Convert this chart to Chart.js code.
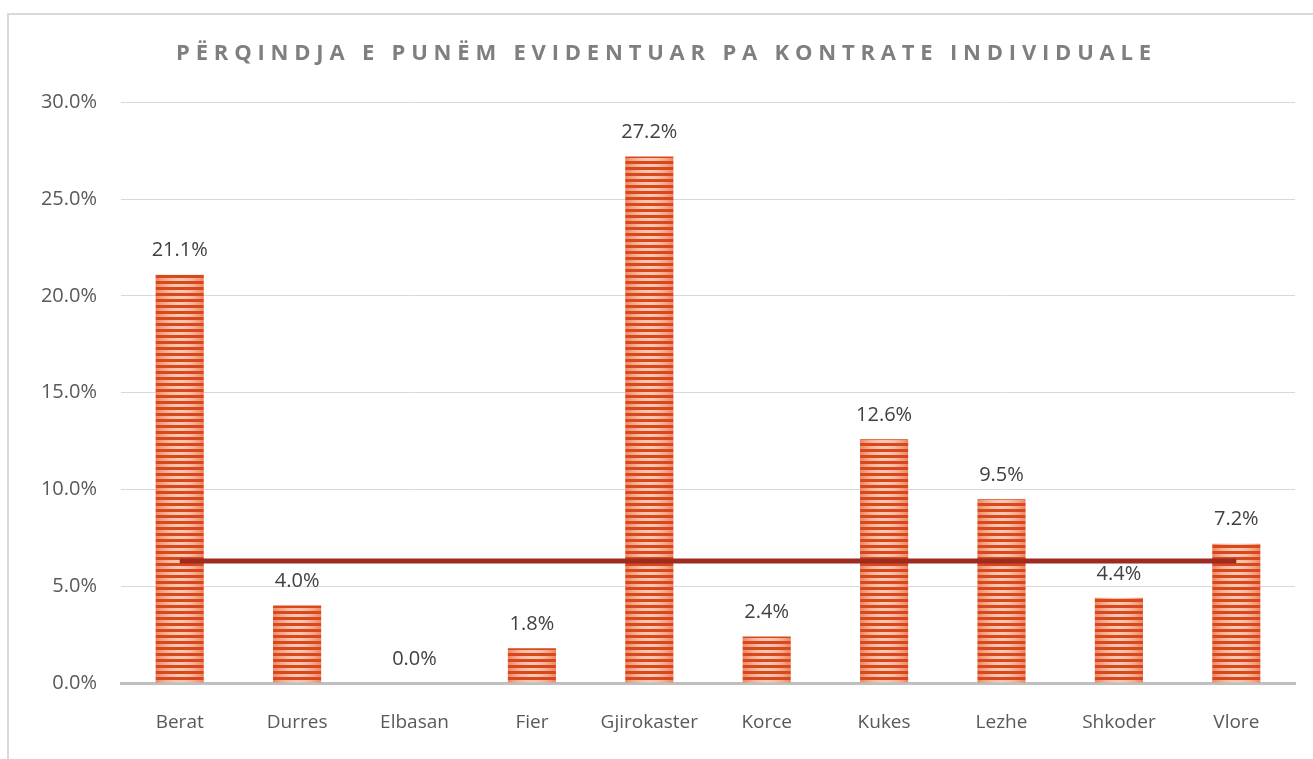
<!DOCTYPE html>
<html>
<head>
<meta charset="utf-8">
<script src="https://cdn.jsdelivr.net/npm/chart.js@4"></script>
<style>
  html, body { margin: 0; padding: 0; background: #ffffff; overflow: hidden; }
  #wrap { position: relative; width: 1313px; height: 759px; }
  #frame { position: absolute; left: 7px; top: 13px; width: 1330px; height: 780px; border: 2px solid #d9d9d9; box-sizing: border-box; }
  canvas { position: absolute; left: 0; top: 0; }
</style>
</head>
<body>
<div id="wrap">
  <div id="frame"></div>
  <canvas id="c" width="1313" height="759"></canvas>
</div>
<script>
const chartTitle = 'PËRQINDJA E PUNËM EVIDENTUAR PA KONTRATE INDIVIDUALE';
const categories = ['Berat', 'Durres', 'Elbasan', 'Fier', 'Gjirokaster', 'Korce', 'Kukes', 'Lezhe', 'Shkoder', 'Vlore'];
const shareValues = [21.1, 4.0, 0.0, 1.8, 27.2, 2.4, 12.6, 9.5, 4.4, 7.2];
const averageValues = [6.3, 6.3, 6.3, 6.3, 6.3, 6.3, 6.3, 6.3, 6.3, 6.3];
const yTicks = [0, 5, 10, 15, 20, 25, 30];

const BAR_PCT = 0.41;
const DARK = 'rgb(216,72,26)';
const FONT = '"Open Sans", "DejaVu Sans", sans-serif';

const patternCache = {};
function stripePattern(ctx, left, w) {
  const W = Math.max(1, Math.round(w));
  const key = W;
  let c = patternCache[key];
  if (!c) {
    c = document.createElement('canvas');
    c.width = W; c.height = 6;
    const p = c.getContext('2d');
    p.fillStyle = DARK;
    p.fillRect(0, 0, W, 6);
    for (let x = 0; x < W; x++) {
      const t = Math.abs((x + 0.5) / W - 0.5) * 2;
      const f = Math.pow(t, 1.8);
      const r = Math.round(249 - f * 12);
      const g = Math.round(200 - f * 66);
      const b = Math.round(180 - f * 80);
      p.fillStyle = `rgb(${r},${g},${b})`;
      p.fillRect(x, 0, 1, 3);
    }
    patternCache[key] = c;
  }
  const pat = ctx.createPattern(c, 'repeat');
  pat.setTransform(new DOMMatrix().translate(left, 2));
  return pat;
}

const titleSpacing = {
  id: 'titleSpacing',
  beforeDraw(chart) {
    const tb = chart.titleBlock;
    if (tb && !tb._spaced) {
      const orig = tb.draw;
      tb.draw = function (...args) {
        const ctx = this.ctx;
        ctx.save();
        ctx.letterSpacing = '5.8px';
        ctx.translate(9, 0);
        orig.apply(this, args);
        ctx.restore();
      };
      tb._spaced = true;
    }
  }
};

const valueLabels = {
  id: 'valueLabels',
  afterDatasetsDraw(chart) {
    const meta = chart.getDatasetMeta(0);
    const ctx = chart.ctx;
    ctx.save();
    ctx.font = '20px ' + FONT;
    ctx.fillStyle = '#404040';
    ctx.textAlign = 'center';
    ctx.textBaseline = 'middle';
    meta.data.forEach((el, i) => {
      const v = chart.data.datasets[0].data[i];
      ctx.fillText(v.toFixed(1) + '%', el.x, el.y - 24);
    });
    ctx.restore();
  }
};

new Chart(document.getElementById('c'), {
  data: {
    labels: categories,
    datasets: [
      {
        type: 'bar',
        label: 'Përqindja',
        data: shareValues,
        order: 1,
        barPercentage: BAR_PCT,
        categoryPercentage: 1,
        backgroundColor: (c) => {
          const chart = c.chart;
          if (!chart.chartArea || !chart.scales.x) return DARK;
          const xs = chart.scales.x;
          const cx = xs.getPixelForValue(c.dataIndex);
          const w = (xs.width / categories.length) * BAR_PCT;
          return stripePattern(chart.ctx, cx - w / 2, w);
        },
        borderWidth: 0
      },
      {
        type: 'line',
        label: 'Mesatarja',
        data: averageValues,
        order: 0,
        borderColor: '#9e2b1f',
        borderWidth: 5,
        pointRadius: 0,
        fill: false,
        borderCapStyle: 'butt'
      }
    ]
  },
  options: {
    responsive: false,
    animation: false,
    layout: { padding: { left: 20, right: 18, top: 0, bottom: 0 } },
    plugins: {
      legend: { display: false },
      tooltip: { enabled: false },
      title: {
        display: true,
        text: chartTitle,
        color: '#7f7f7f',
        font: { family: FONT, size: 22, weight: 'bold' },
        padding: { top: 41, bottom: 35 }
      }
    },
    scales: {
      x: {
        afterFit: (s) => { s.height = 76; },
        grid: { display: false, drawTicks: false },
        border: { display: true, color: '#bfbfbf', width: 3 },
        ticks: { color: '#595959', font: { family: FONT, size: 19 }, padding: 28, maxRotation: 0 }
      },
      y: {
        min: 0, max: 30,
        afterFit: (s) => { s.width = 101; },
        afterBuildTicks: (s) => { s.ticks = yTicks.map(v => ({ value: v })); },
        grid: { color: '#d9d9d9', lineWidth: 1, drawTicks: false },
        border: { display: false },
        ticks: {
          color: '#595959',
          font: { family: FONT, size: 20 },
          padding: 24,
          callback: (v) => Number(v).toFixed(1) + '%'
        }
      }
    }
  },
  plugins: [titleSpacing, valueLabels]
});
</script>
</body>
</html>
